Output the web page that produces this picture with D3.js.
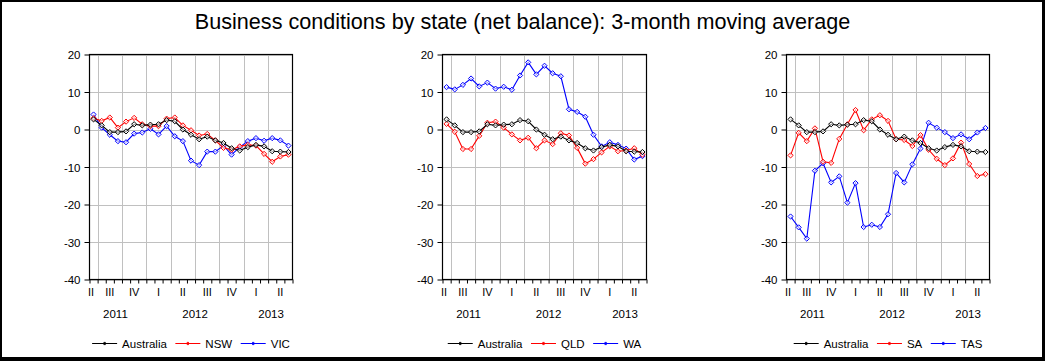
<!DOCTYPE html>
<html>
<head>
<meta charset="utf-8">
<script src="https://cdn.jsdelivr.net/npm/d3@7"></script>
<style>
  html, body { margin: 0; padding: 0; background: #fff; }
  svg { display: block; font-family: "Liberation Sans", Arial, sans-serif; }
</style>
</head>
<body>
<svg id="chart" width="1045" height="361"></svg>
<script>
// ---------------- data ----------------
const months = ["2011-06","2011-07","2011-08","2011-09","2011-10","2011-11","2011-12",
  "2012-01","2012-02","2012-03","2012-04","2012-05","2012-06","2012-07","2012-08","2012-09",
  "2012-10","2012-11","2012-12","2013-01","2013-02","2013-03","2013-04","2013-05","2013-06"];

const australia = [2.7,1.1,-0.7,-0.7,-0.5,1.4,1.1,1.3,1.4,2.5,2.2,0.0,-1.4,-2.6,-1.9,-2.9,-3.6,-5.0,-5.6,-4.7,-4.1,-4.5,-5.8,-5.9,-6.0];
const nsw = [3.0,2.3,3.2,0.5,2.1,3.1,1.4,0.9,0.9,2.9,3.2,1.1,-0.2,-1.6,-1.2,-2.9,-4.9,-5.4,-4.5,-4.1,-4.3,-6.5,-8.6,-7.2,-6.7];
const vic = [4.0,0.5,-1.4,-3.1,-3.4,-1.1,-0.8,0.2,-1.3,0.9,-1.8,-3.1,-8.3,-9.5,-5.9,-5.9,-4.3,-6.7,-4.7,-3.1,-2.3,-3.0,-2.3,-2.9,-4.3];
const qld = [1.5,-0.6,-5.2,-5.2,-1.7,1.8,2.1,0.5,-1.3,-2.9,-2.2,-5.0,-2.9,-3.9,-1.0,-1.6,-4.9,-9.1,-7.9,-6.1,-4.5,-5.8,-5.6,-5.0,-6.7];
const wa = [11.3,10.7,11.9,13.6,11.5,12.5,10.9,11.4,10.6,14.4,17.9,14.7,17.0,15.0,14.2,5.4,4.7,3.4,-1.4,-4.5,-3.4,-4.1,-5.1,-8.0,-7.1];
const sa = [-6.9,-0.9,-3.1,0.3,-8.6,-8.9,-2.5,1.4,5.2,-0.2,2.7,3.8,2.3,-2.6,-2.8,-4.4,-1.5,-5.4,-7.8,-9.5,-7.7,-3.5,-9.2,-12.4,-11.9];
const tas = [-23.2,-26.1,-29.1,-11.0,-9.0,-14.1,-12.5,-19.5,-14.3,-26.0,-25.4,-26.0,-22.6,-11.6,-14.1,-9.3,-5.1,1.8,0.5,-0.7,-2.3,-1.3,-2.6,-0.8,0.4];

const yTicks = [-40,-30,-20,-10,0,10,20];
const quarterNames = ["I","II","III","IV"];
const titleText = "Business conditions by state (net balance): 3-month moving average";

const panelsData = [
  { names: ["Australia","NSW","VIC"], series: [australia, nsw, vic] },
  { names: ["Australia","QLD","WA"],  series: [australia, qld, wa] },
  { names: ["Australia","SA","TAS"],  series: [australia, sa, tas] }
];

// ---------------- layout / style ----------------
const colors = ["#000000", "#ff0000", "#0000ff"];
const panelX = [[89.5, 292.5], [442.5, 646.5], [786.5, 989.5]];
const plotTop = 54.5, plotBottom = 279.5;
const gridColor = "#c0c0c0";

const svg = d3.select("#chart");

// outer frame
svg.append("rect").attr("x",0).attr("y",0).attr("width",1045).attr("height",2).attr("fill","#000");
svg.append("rect").attr("x",0).attr("y",0).attr("width",2).attr("height",361).attr("fill","#000");
svg.append("rect").attr("x",1042).attr("y",0).attr("width",3).attr("height",361).attr("fill","#000");
svg.append("rect").attr("x",0).attr("y",357).attr("width",1045).attr("height",4).attr("fill","#000");

svg.append("text")
  .attr("x", 522.5).attr("y", 28.5)
  .attr("text-anchor","middle")
  .attr("font-size", 21.6)
  .attr("fill","#000")
  .text(titleText);

const parsed = months.map(m => { const [y, mo] = m.split("-").map(Number); return {y, mo}; });

function diamond(r) { return `M0,${-r}L${r},0L0,${r}L${-r},0Z`; }

panelsData.forEach((p, pi) => {
  const [L, R] = panelX[pi];
  const x = d3.scaleLinear().domain([0, months.length]).range([L, R]);
  const y = d3.scaleLinear().domain([-40, 20]).range([plotBottom, plotTop]);
  const g = svg.append("g");

  // horizontal gridlines
  g.selectAll(".hg").data(yTicks).enter().append("line")
    .attr("x1", L).attr("x2", R)
    .attr("y1", d => Math.round(y(d)) + 0.5).attr("y2", d => Math.round(y(d)) + 0.5)
    .attr("stroke", gridColor).attr("stroke-width", 1);

  // vertical gridlines at quarter starts
  const qStarts = [];
  parsed.forEach((d, i) => { if (i > 0 && (d.mo - 1) % 3 === 0) qStarts.push(i); });
  g.selectAll(".vg").data(qStarts).enter().append("line")
    .attr("x1", d => Math.round(x(d)) + 0.5).attr("x2", d => Math.round(x(d)) + 0.5)
    .attr("y1", plotTop).attr("y2", plotBottom)
    .attr("stroke", gridColor).attr("stroke-width", 1);

  // y axis
  const yAxis = d3.axisLeft(y).tickValues(yTicks).tickSize(5).tickPadding(4).tickFormat(d => String(d));
  const ya = g.append("g").attr("transform", `translate(${L},0)`).call(yAxis);
  ya.select(".domain").remove();
  ya.selectAll(".tick line").attr("stroke","#000");
  ya.selectAll(".tick text").attr("font-size", 11.5).attr("fill","#000")
    .attr("font-family", '"Liberation Sans", Arial, sans-serif').attr("dy", "0.36em");

  // x axis month ticks (at month boundaries)
  const xAxis = d3.axisBottom(x).tickValues(d3.range(0, months.length + 1)).tickSize(4).tickFormat("");
  const xa = g.append("g").attr("transform", `translate(0,${plotBottom})`).call(xAxis);
  xa.select(".domain").remove();
  xa.selectAll(".tick line").attr("stroke","#000");

  // quarter labels
  const quarters = [];
  parsed.forEach((d, i) => {
    const q = Math.floor((d.mo - 1) / 3);
    const key = d.y + "-" + q;
    const last = quarters[quarters.length - 1];
    if (!last || last.key !== key) quarters.push({ key, q, start: i, end: i + 1 });
    else last.end = i + 1;
  });
  g.selectAll(".ql").data(quarters).enter().append("text")
    .attr("x", d => (d.end - d.start) < 3 && d.start === 0 ? x(0.2) : x((d.start + d.end) / 2))
    .attr("y", 296)
    .attr("text-anchor","middle")
    .attr("font-size", 11).attr("fill","#000")
    .text(d => quarterNames[d.q]);

  // year labels
  const years = [];
  parsed.forEach((d, i) => {
    const last = years[years.length - 1];
    if (!last || last.y !== d.y) years.push({ y: d.y, start: i, end: i + 1 });
    else last.end = i + 1;
  });
  g.selectAll(".yl").data(years).enter().append("text")
    .attr("x", (d, i) => x((d.start + d.end) / 2) + (i === 0 ? -2.5 : (i === years.length - 1 ? 3 : 0)))
    .attr("y", 317.5)
    .attr("text-anchor","middle")
    .attr("font-size", 11.5).attr("fill","#000")
    .text(d => d.y);

  // series
  const line = d3.line().x((d, i) => x(i + 0.5)).y(d => y(d));
  const order = [2, 1, 0];
  order.forEach(si => {
    const s = p.series[si];
    g.append("path").datum(s)
      .attr("d", line).attr("fill","none")
      .attr("stroke", colors[si]).attr("stroke-width", 1.1);
    g.selectAll(".m" + si).data(s).enter().append("path")
      .attr("d", diamond(2.6))
      .attr("transform", (d, i) => `translate(${x(i + 0.5)},${y(d)})`)
      .attr("fill", "#fff").attr("fill-opacity", 0.6)
      .attr("stroke", colors[si]).attr("stroke-width", 1);
  });

  // plot frame
  g.append("rect")
    .attr("x", L).attr("y", plotTop).attr("width", R - L).attr("height", plotBottom - plotTop)
    .attr("fill","none").attr("stroke","#000").attr("stroke-width", 1.2);

  // legend
  const lg = g.append("g");
  let cx = 0;
  const items = [];
  p.names.forEach((n, si) => {
    const it = lg.append("g");
    it.append("line").attr("x1", 0).attr("x2", 25).attr("y1", 0).attr("y2", 0)
      .attr("stroke", colors[si]).attr("stroke-width", 1);
    it.append("path").attr("d", diamond(1.6)).attr("transform","translate(12.5,0)")
      .attr("fill", colors[si]).attr("stroke", colors[si]).attr("stroke-width", 0.8);
    const t = it.append("text").attr("x", 30).attr("y", 4).attr("font-size", 11.5).attr("fill","#000").text(n);
    const w = 30 + t.node().getComputedTextLength();
    items.push({ it, w });
  });
  const gap = 8.5;
  const total = d3.sum(items, d => d.w) + gap * (items.length - 1);
  cx = (L + R) / 2 - total / 2;
  items.forEach(d => { d.it.attr("transform", `translate(${cx},343.5)`); cx += d.w + gap; });
});
</script>
</body>
</html>
